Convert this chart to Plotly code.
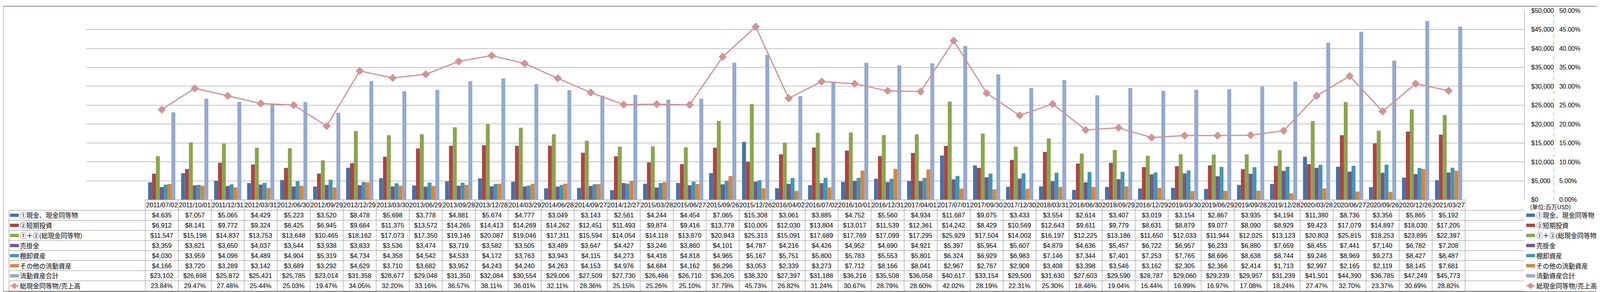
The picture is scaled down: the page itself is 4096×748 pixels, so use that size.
import plotly.graph_objects as go

# ---------------- data ----------------
dates = ["2011/07/02", "2011/10/01", "2011/12/31", "2012/03/31", "2012/06/30", "2012/09/29",
         "2012/12/29", "2013/03/30", "2013/06/29", "2013/09/28", "2013/12/28", "2014/03/29",
         "2014/06/28", "2014/09/27", "2014/12/27", "2015/03/28", "2015/06/27", "2015/09/26",
         "2015/12/26", "2016/04/02", "2016/07/02", "2016/10/01", "2016/12/31", "2017/04/01",
         "2017/07/01", "2017/09/30", "2017/12/30", "2018/03/31", "2018/06/30", "2018/09/29",
         "2018/12/29", "2019/03/30", "2019/06/29", "2019/09/28", "2019/12/28", "2020/03/28",
         "2020/06/27", "2020/09/26", "2020/12/26", "2021/03/27"]

cash = [4635, 7057, 5065, 4429, 5223, 3520, 8478, 5698, 3778, 4881, 5674, 4777, 3049, 3143,
        2561, 4244, 4454, 7065, 15308, 3061, 3885, 4752, 5560, 4934, 11687, 9075, 3433, 3554,
        2614, 3407, 3019, 3154, 2867, 3935, 4194, 11380, 8736, 3356, 5865, 5192]
short_inv = [6912, 8141, 9772, 9324, 8425, 6945, 9684, 11375, 13572, 14265, 14413, 14269, 14262,
             12451, 11493, 9874, 9416, 13778, 10005, 12030, 13804, 13017, 11539, 12361, 14242,
             8429, 10569, 12643, 9611, 9779, 8631, 8879, 9077, 8090, 8929, 9423, 17079, 14897,
             18030, 17205]
total_cash = [11547, 15198, 14837, 13753, 13648, 10465, 18162, 17073, 17350, 19146, 20087, 19046,
              17311, 15594, 14054, 14118, 13870, 20843, 25313, 15091, 17689, 17769, 17099, 17295,
              25929, 17504, 14002, 16197, 12225, 13186, 11650, 12033, 11944, 12025, 13123, 20803,
              25815, 18253, 23895, 22397]
receivables = [3359, 3821, 3650, 4037, 3544, 3938, 3833, 3536, 3474, 3719, 3582, 3505, 3489, 3647,
               4427, 3246, 3860, 4101, 4787, 4216, 4426, 4952, 4690, 4921, 5397, 5954, 5607, 4879,
               4636, 5457, 6722, 6957, 6233, 6880, 7659, 8455, 7441, 7140, 6782, 7208]
inventory = [4030, 3959, 4096, 4489, 4904, 5319, 4734, 4358, 4542, 4533, 4172, 3763, 3943, 4115,
             4273, 4418, 4818, 4965, 5167, 5751, 5800, 5783, 5553, 5801, 6324, 6929, 6983, 7146,
             7344, 7401, 7253, 7765, 8696, 8638, 8744, 9246, 8969, 9273, 8427, 8487]
other_ca = [4166, 3720, 3289, 3142, 3689, 3292, 4629, 3710, 3682, 3952, 4243, 4240, 4263, 4153,
            4976, 4684, 4162, 6296, 3053, 2339, 3273, 7712, 8166, 8041, 2967, 2767, 2908, 3408,
            3398, 3546, 3162, 2305, 2366, 2414, 1713, 2997, 2165, 2119, 8145, 7681]
total_ca = [23102, 26698, 25872, 25421, 25785, 23014, 31358, 28677, 29048, 31350, 32084, 30554,
            29006, 27509, 27730, 26466, 26710, 36205, 38320, 27397, 31188, 36216, 35508, 36058,
            40617, 33154, 29500, 31630, 27603, 29590, 28787, 29060, 29239, 29957, 31239, 41501,
            44390, 36785, 47249, 45773]
ratio_pct = [23.84, 29.47, 27.48, 25.44, 25.03, 19.47, 34.05, 32.20, 33.16, 36.57, 38.11, 36.01,
             32.11, 28.36, 25.15, 25.26, 25.10, 37.79, 45.73, 26.82, 31.24, 30.67, 28.79, 28.60,
             42.02, 28.19, 22.31, 25.30, 18.46, 19.04, 16.44, 16.99, 16.97, 17.08, 18.24, 27.47,
             32.70, 23.37, 30.69, 28.82]

bar_names = ["①現金、現金同等物", "②短期投資", "①＋②(総現金同等物)", "売掛金",
             "棚卸資産", "その他の流動資産", "流動資産合計"]
line_name = "総現金同等物/売上高"
unit_label = "(単位:百万USD)"

# ---------------- styles / layout geometry (reference pixels) ----------------
bar_colors = ["#4572A7", "#AA4643", "#89A54E", "#71588F", "#4198AF", "#DB843D", "#93A9CF"]
line_color = "#D39393"
grid_color = "#8A8A8A"

W, H = 4096, 748
RW, RH = 4701, 858
S = W / RW

PLOT_L, PLOT_R, PLOT_T, PLOT_B = 244, 4469, 13, 582
TAB_L = 17
HEAD_B = 613.3
ROW_H = 30.33


def fx(px):
    return px / RW


def fy(py):
    return 1 - py / RH


NUM = "Liberation Sans, Arial, sans-serif"
CJK = "Noto Sans CJK JP, sans-serif"

series = [cash, short_inv, total_cash, receivables, inventory, other_ca, total_ca]
n = len(dates)

fig = go.Figure()
for i, (nm, vals) in enumerate(zip(bar_names, series)):
    fig.add_trace(go.Bar(x=dates, y=vals, name=nm,
                         marker=dict(color=bar_colors[i], line=dict(width=0))))

fig.add_trace(go.Scatter(x=dates, y=[r / 100 for r in ratio_pct], name=line_name, yaxis="y2",
                         mode="lines+markers",
                         line=dict(color=line_color, width=3.2),
                         marker=dict(symbol="diamond", size=15, color=line_color,
                                     line=dict(color="#C88484", width=1))))

shapes = []
annotations = []

# ---------------- data table (cells drawn on the category axis) ----------------
nrows = len(series) + 1
row_centers = [HEAD_B + ROW_H * (k + 0.5) for k in range(nrows)]
tab_bottom = HEAD_B + ROW_H * nrows

# header row: dates
for j, d in enumerate(dates):
    annotations.append(dict(text=d, x=d, xref="x", y=fy((PLOT_B + HEAD_B) / 2), yref="paper",
                            showarrow=False, xanchor="center", yanchor="middle",
                            font=dict(family=NUM, size=16.5, color="black")))
# body cells
for j, d in enumerate(dates):
    vals = [f"${s[j]:,}" for s in series] + [f"{ratio_pct[j]:.2f}%"]
    for k, t in enumerate(vals):
        annotations.append(dict(text=t, x=d, xref="x", y=fy(row_centers[k]), yref="paper",
                                showarrow=False, xanchor="center", yanchor="middle",
                                font=dict(family=NUM, size=16.5, color="black")))

# grid lines of the table
for i in range(n + 1):
    shapes.append(dict(type="line", xref="x", yref="paper", x0=i - 0.5, x1=i - 0.5,
                       y0=fy(PLOT_B), y1=fy(tab_bottom), line=dict(color=grid_color, width=1)))
shapes.append(dict(type="line", xref="x", yref="paper", x0=-0.5, x1=n - 0.5,
                   y0=fy(PLOT_B), y1=fy(PLOT_B), line=dict(color=grid_color, width=1)))
for k in range(nrows + 1):
    yy = HEAD_B + ROW_H * k
    shapes.append(dict(type="line", xref="paper", yref="paper", x0=fx(TAB_L), x1=fx(PLOT_R),
                       y0=fy(yy), y1=fy(yy), line=dict(color=grid_color, width=1)))
shapes.append(dict(type="line", xref="paper", yref="paper", x0=fx(TAB_L), x1=fx(TAB_L),
                   y0=fy(HEAD_B), y1=fy(tab_bottom), line=dict(color=grid_color, width=1)))


# ---------------- legend keys (table label column + right legend) ----------------
def add_key(k, x_left, x_right, x_text):
    yc = row_centers[k]
    if k < len(series):
        shapes.append(dict(type="rect", xref="paper", yref="paper", x0=fx(x_left), x1=fx(x_right),
                           y0=fy(yc + 5), y1=fy(yc - 5), line=dict(width=0),
                           fillcolor=bar_colors[k]))
        label = bar_names[k]
    else:
        shapes.append(dict(type="line", xref="paper", yref="paper", x0=fx(x_left), x1=fx(x_right),
                           y0=fy(yc), y1=fy(yc), line=dict(color=line_color, width=3)))
        xc = (x_left + x_right) / 2
        dx, dy = 9, 9
        shapes.append(dict(type="path", xref="paper", yref="paper",
                           path=(f"M {fx(xc - dx)},{fy(yc)} L {fx(xc)},{fy(yc - dy)} "
                                 f"L {fx(xc + dx)},{fy(yc)} L {fx(xc)},{fy(yc + dy)} Z"),
                           fillcolor=line_color, line=dict(color="#C88484", width=1)))
        label = line_name
    annotations.append(dict(text=label, xref="paper", yref="paper", x=fx(x_text), y=fy(yc),
                            xanchor="left", yanchor="middle", showarrow=False,
                            font=dict(family=CJK, size=16.5, color="black")))


for k in range(nrows):
    add_key(k, 20, 46, 47)
    add_key(k, 4475, 4501, 4502)

annotations.append(dict(text=unit_label, xref="paper", yref="paper", x=fx(4484), y=fy(603),
                        xanchor="left", yanchor="middle", showarrow=False,
                        font=dict(family=CJK, size=15, color="black")))

# green dashed secondary axis line and outer chart border
shapes.append(dict(type="line", xref="paper", yref="paper", x0=fx(4556), x1=fx(4556),
                   y0=fy(PLOT_B), y1=fy(PLOT_T), line=dict(color="#00E000", width=1, dash="dash")))
shapes.append(dict(type="rect", xref="paper", yref="paper", x0=0, x1=1, y0=0, y1=1,
                   line=dict(color=grid_color, width=2)))

fig.update_layout(
    width=W, height=H,
    margin=dict(l=0, r=0, t=0, b=0),
    paper_bgcolor="white", plot_bgcolor="white",
    barmode="group", bargap=0.176, bargroupgap=0,
    showlegend=False,
    xaxis=dict(type="category", domain=[fx(PLOT_L), fx(PLOT_R)], showticklabels=False,
               showgrid=False, zeroline=False, showline=False, ticks=""),
    yaxis=dict(domain=[fy(PLOT_B), fy(PLOT_T)], range=[0, 50000], dtick=5000, side="right",
               tickprefix="$", tickformat=",d", showgrid=True, gridcolor=grid_color, gridwidth=1,
               zeroline=False, showline=True, linecolor=grid_color, linewidth=1, ticks="",
               ticklabelstandoff=14, tickfont=dict(family=NUM, size=16, color="black")),
    yaxis2=dict(overlaying="y", anchor="free", position=fx(4556), side="right",
                range=[0, 0.5], dtick=0.05, tickformat=".2%", showgrid=False, zeroline=False,
                showline=False, ticks="inside", ticklen=4, tickcolor="#00E000",
                ticklabelstandoff=13, tickfont=dict(family=NUM, size=16, color="black")),
    shapes=shapes,
    annotations=annotations,
)

fig.write_html("out.html")
